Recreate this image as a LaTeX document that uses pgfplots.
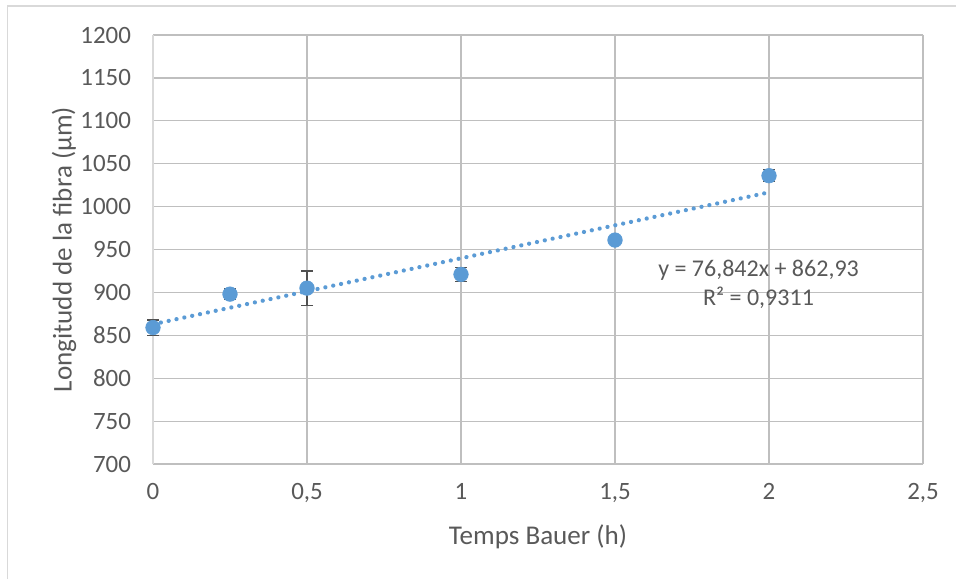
\documentclass[border=0pt]{standalone}
\usepackage{pgfplots}
\pgfplotsset{compat=1.18}
\usepackage{fontspec}
\setmainfont{Carlito}
\definecolor{txt}{HTML}{595959}
\definecolor{grid}{HTML}{D9D9D9}
\definecolor{axl}{HTML}{BFBFBF}
\definecolor{blu}{HTML}{5B9BD5}
\definecolor{err}{HTML}{505050}
\begin{document}
\begin{tikzpicture}
\useasboundingbox (0pt,0pt) rectangle (717pt,434.25pt);
\draw[grid, line width=1pt] (5.6pt,0pt) -- (5.6pt,429.75pt) -- (717pt,429.75pt);
\begin{axis}[
  at={(114.75pt,86.25pt)}, anchor=south west,
  scale only axis, width=577.5pt, height=321.75pt,
  xmin=0, xmax=2.5, ymin=700, ymax=1200,
  xtick={0,0.5,1,1.5,2,2.5},
  ytick={700,750,...,1200},
  axis lines=left, axis line style={-},
  x axis line style={axl, line width=0.9pt},
  y axis line style={grid, line width=0.9pt},
  grid=major, major grid style={grid, line width=0.9pt},
  major tick length=0pt,
  /pgf/number format/assume math mode=true,
  /pgf/number format/use comma,
  /pgf/number format/1000 sep={},
  tick label style={font=\fontsize{18.7}{22}\selectfont, text=txt},
  yticklabel style={xshift=-13pt},
  xticklabel style={yshift=-11pt},
  xlabel={Temps Bauer (h)},
  ylabel={Longitudd de la fibra (µm)},
  label style={font=\fontsize{20.3}{24}\selectfont, text=txt},
  xlabel style={at={(axis description cs:0.5,-0.170)}, anchor=center},
  ylabel style={at={(axis description cs:-0.1156,0.5)}, anchor=center},
  clip=false,
]
\addplot[blu, only marks, mark=*, mark size=5.5pt, mark options={draw=blu, fill=blu},
  error bars/.cd, y dir=both, y explicit,
  error bar style={err, line width=1pt},
  error mark options={rotate=90, mark size=4.5pt, line width=1pt, err}]
  coordinates {
  (0,859) +- (0,9)
  (0.25,898) +- (0,6)
  (0.5,905) +- (0,20)
  (1,921) +- (0,8)
  (1.5,961) +- (0,3)
  (2,1036) +- (0,7)
  };
\addplot[blu, line width=3.2pt, line cap=round, dash pattern=on 0.01pt off 6pt, no marks]
  coordinates {(0,862.93) (2,1016.614)};
\node[text=txt, font=\fontsize{18}{22}\selectfont] at (axis cs:1.966,926) {y = 76,842x + 862,93};
\node[text=txt, font=\fontsize{18}{22}\selectfont] at (axis cs:1.966,893.5) {R² = 0,9311};
\end{axis}
\end{tikzpicture}
\end{document}
